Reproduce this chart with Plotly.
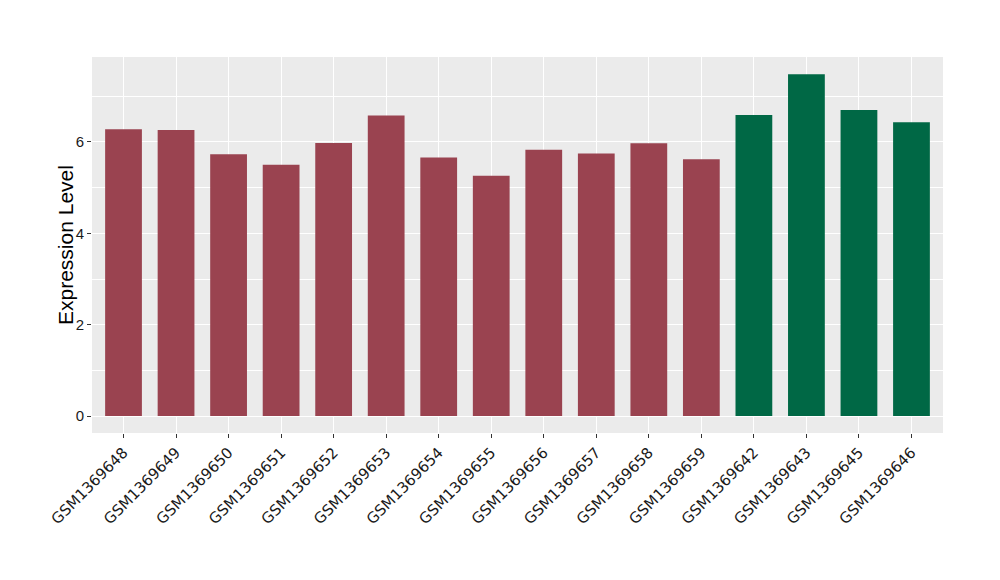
import plotly.graph_objects as go

samples = ["GSM1369648", "GSM1369649", "GSM1369650", "GSM1369651", "GSM1369652",
           "GSM1369653", "GSM1369654", "GSM1369655", "GSM1369656", "GSM1369657",
           "GSM1369658", "GSM1369659", "GSM1369642", "GSM1369643", "GSM1369645",
           "GSM1369646"]
values = [6.28, 6.26, 5.73, 5.50, 5.98, 6.58, 5.66, 5.26, 5.83, 5.75,
          5.97, 5.62, 6.59, 7.48, 6.70, 6.43]
groups = ["a"] * 12 + ["b"] * 4
group_colors = {"a": "#9A4350", "b": "#006845"}
y_title = "Expression Level"

fig = go.Figure()
fig.add_trace(go.Bar(
    x=samples, y=values,
    marker=dict(color=[group_colors[g] for g in groups], line=dict(width=0)),
    width=0.7, showlegend=False,
))

fig.update_layout(
    width=1000, height=580,
    margin=dict(l=84, r=65, t=49, b=155, autoexpand=False),
    paper_bgcolor="white", plot_bgcolor="#EBEBEB",
    font=dict(family="Liberation Sans, Arial, sans-serif", color="#1a1a1a"),
    annotations=[dict(
        text=y_title, textangle=-90, xref="paper", yref="paper",
        x=0, y=0.5, xanchor="center", yanchor="middle", xshift=-27,
        showarrow=False, font=dict(size=21, color="black"),
    )],
)
fig.update_xaxes(
    tickangle=-45, tickfont=dict(size=15, color="#1a1a1a", family="DejaVu Sans"),
    showgrid=True, gridcolor="white", gridwidth=1.3,
    ticks="outside", ticklen=4, tickcolor="#333333",
    range=[-0.6, 15.6], zeroline=False, automargin=False,
)
fig.update_yaxes(
    tickfont=dict(size=15, color="#1a1a1a"),
    range=[-0.37, 7.86], tickvals=[0, 2, 4, 6],
    showgrid=True, gridcolor="white", gridwidth=1.3,
    minor=dict(tickvals=[1, 3, 5, 7], showgrid=True, gridcolor="white", gridwidth=0.6, ticks=""),
    ticks="outside", ticklen=4, tickcolor="#333333",
    zeroline=False, automargin=False,
)
fig.write_html("out.html")
